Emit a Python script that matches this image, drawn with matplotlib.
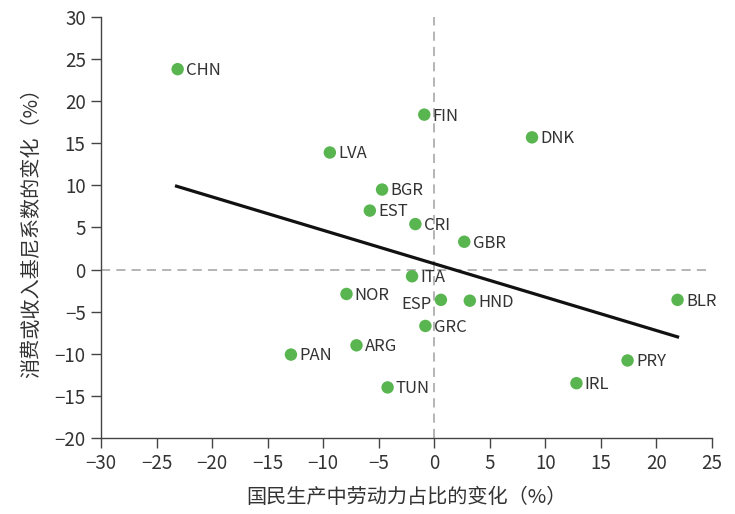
import matplotlib
matplotlib.use("Agg")
import matplotlib.pyplot as plt

plt.rcParams['font.family'] = ['Noto Sans CJK SC', 'DejaVu Sans']

# data
countries = ["CHN", "FIN", "DNK", "LVA", "BGR", "EST", "CRI", "GBR", "ITA", "NOR",
             "ESP", "HND", "BLR", "GRC", "PAN", "ARG", "PRY", "IRL", "TUN"]
labor_change = [-23.1, -0.9, 8.8, -9.4, -4.7, -5.8, -1.7, 2.7, -2.0, -7.9,
                0.6, 3.2, 21.9, -0.8, -12.9, -7.0, 17.4, 12.8, -4.2]
gini_change = [23.8, 18.4, 15.7, 13.9, 9.5, 7.0, 5.4, 3.3, -0.8, -2.9,
               -3.6, -3.7, -3.6, -6.7, -10.1, -9.0, -10.8, -13.5, -14.0]
fit_x = [-23.2, 21.9]
fit_y = [9.9, -8.0]
left_labels = ["ESP"]

txt = '#333333'
green = '#58b54f'

fig = plt.figure(figsize=(7.35, 5.14), dpi=100)
ax = fig.add_axes([0.1374, 0.148, 0.8313, 0.819])

ax.axvline(0, color='#a0a0a0', lw=1.1, ls=(0, (6, 4)), zorder=1)
ax.axhline(0, color='#a0a0a0', lw=1.1, ls=(0, (6, 4)), zorder=1)
ax.plot(fit_x, fit_y, color='#111111', lw=2.3, zorder=2)
ax.scatter(labor_change, gini_change, s=80, color=green, edgecolors='none', zorder=3)

for c, x, y in zip(countries, labor_change, gini_change):
    if c in left_labels:
        ax.annotate(c, (x, y), xytext=(-6.5, -3), textcoords='offset points',
                    ha='right', va='center', fontsize=12, color=txt)
    else:
        ax.annotate(c, (x, y), xytext=(6, -1), textcoords='offset points',
                    ha='left', va='center', fontsize=12, color=txt)

ax.set_xlim(-30, 25)
ax.set_ylim(-20, 30)
ax.set_xticks(range(-30, 26, 5))
ax.set_yticks(range(-20, 31, 5))
ax.set_xticklabels([str(v).replace('-', '\u2212') for v in range(-30, 26, 5)])
ax.set_yticklabels([str(v).replace('-', '\u2212') for v in range(-20, 31, 5)])

for s in ['top', 'right']:
    ax.spines[s].set_visible(False)
for s in ['left', 'bottom']:
    ax.spines[s].set_color('#444444')
    ax.spines[s].set_linewidth(1.0)
ax.tick_params(direction='out', length=7, width=1.0, color='#444444',
               labelsize=13.5, labelcolor=txt, pad=4)

ax.set_xlabel('国民生产中劳动力占比的变化（%）', fontsize=14.5, color=txt, labelpad=9)
ax.set_ylabel('消费或收入基尼系数的变化（%）', fontsize=14.5, color=txt, labelpad=9)

fig.savefig('out.png', dpi=100)
